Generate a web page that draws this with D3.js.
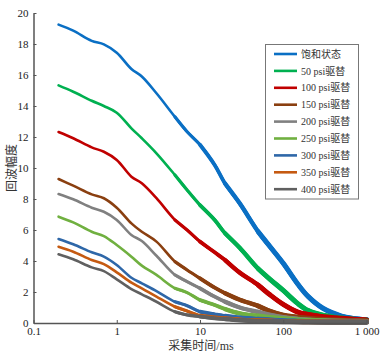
<!DOCTYPE html>
<html><head><meta charset="utf-8">
<script src="https://cdn.jsdelivr.net/npm/d3@7"></script>
<style>
body{margin:0;background:#fff;}
text{font-family:"Liberation Serif","Times New Roman","Noto Sans CJK SC",serif;}
</style></head>
<body><svg id="c" width="386" height="356"></svg>
<script>
const times = [0.2,0.3,0.5,0.7,1,1.5,2,3,5,7,10,15,20,30,50,70,100,150,200,300,500,700,1000];
const seriesNames = ["饱和状态","50 psi驱替","100 psi驱替","150 psi驱替","200 psi驱替","250 psi驱替","300 psi驱替","350 psi驱替","400 psi驱替"];
const colors = ["#0a6fc4","#00b050","#c00000","#8a3f10","#808080","#70b040","#2e67a8","#c55a11","#606060"];
const sat   = [19.25,18.86,18.2,17.98,17.44,16.39,15.9,14.82,13.3,12.34,11.5,10.2,9.0,7.72,5.89,4.9,3.85,2.5,1.7,0.95,0.45,0.3,0.22];
const p50   = [15.33,14.92,14.34,14.0,13.57,12.56,11.92,10.95,9.55,8.58,7.61,6.65,5.79,4.85,3.5,2.8,2.1,1.25,0.8,0.5,0.32,0.25,0.2];
const p100  = [12.32,11.92,11.33,11.05,10.52,9.44,9.01,8.05,6.65,6.0,5.25,4.56,4.06,3.25,2.45,1.8,1.2,0.7,0.55,0.4,0.3,0.25,0.2];
const p150  = [9.29,8.86,8.3,8.05,7.44,6.43,5.89,5.25,3.96,3.42,2.88,2.28,1.92,1.5,1.1,0.75,0.5,0.38,0.3,0.22,0.18,0.16,0.15];
const p200  = [8.32,7.98,7.44,7.18,6.65,5.68,5.29,4.34,3.1,2.67,2.24,1.7,1.37,1.0,0.7,0.5,0.35,0.25,0.2,0.15,0.12,0.11,0.1];
const p250  = [6.86,6.49,5.89,5.61,5.03,4.28,3.7,3.1,2.24,1.96,1.48,1.16,0.9,0.62,0.45,0.35,0.28,0.2,0.16,0.13,0.11,0.1,0.1];
const p300  = [5.42,5.08,4.56,4.28,3.74,2.92,2.56,2.06,1.37,1.12,0.73,0.56,0.45,0.34,0.25,0.2,0.15,0.12,0.1,0.09,0.08,0.08,0.08];
const p350  = [4.92,4.6,4.06,3.8,3.27,2.6,2.24,1.7,1.05,0.77,0.47,0.36,0.3,0.22,0.16,0.13,0.1,0.09,0.08,0.07,0.06,0.06,0.06];
const p400  = [4.43,4.11,3.59,3.35,2.82,2.19,1.85,1.37,0.73,0.52,0.41,0.3,0.25,0.18,0.12,0.1,0.08,0.07,0.06,0.05,0.05,0.05,0.05];
const allSeries = [sat,p50,p100,p150,p200,p250,p300,p350,p400];
const xTicks = [0.1,1,10,100,1000];
const xTickLabels = ["0.1","1","10","100","1 000"];
const yTicks = [0,2,4,6,8,10,12,14,16,18,20];
const xTitle = "采集时间/ms";
const yTitle = "回波幅度";

const svg = d3.select("#c");
const x = d3.scaleLog().domain([0.1,1000]).range([33.5,366.5]);
const y = d3.scaleLinear().domain([0,20]).range([323,13]);
const axisColor = "#555";

const line = d3.line().x(d=>x(d[0])).y(d=>y(d[1])).curve(d3.curveCatmullRom.alpha(0.5));
const g = svg.append("g");
const widths = [[0,2.6],[5,3.2],[10,3.8],[20,4.4],[50,5]];
allSeries.forEach((s,i)=>{
  const pts = times.map((t,j)=>[t,s[j]]);
  widths.forEach(([t0,w])=>{
    const seg = pts.filter(p=>p[0]>=t0);
    g.append("path").attr("d",line(seg)).attr("fill","none").attr("stroke",colors[i]).attr("stroke-width",w).attr("stroke-linejoin","round").attr("stroke-linecap","round");
  });
});

// axes
const xAxis = d3.axisBottom(x).tickValues(xTicks).tickFormat((d,i)=>xTickLabels[i]).tickSizeInner(-3).tickSizeOuter(0).tickPadding(4);
const xa = svg.append("g").attr("transform","translate(0,323)").call(xAxis);
xa.select(".domain").attr("stroke",axisColor).attr("stroke-width",1.5);
xa.selectAll(".tick line").attr("stroke",axisColor);
xa.selectAll("text").attr("font-size",11).attr("fill","#222");

const yAxis = d3.axisLeft(y).tickValues(yTicks).tickSizeInner(-3).tickSizeOuter(0).tickPadding(5);
const ya = svg.append("g").attr("transform","translate(33.5,0)").call(yAxis);
ya.select(".domain").attr("stroke",axisColor).attr("stroke-width",1.5);
ya.selectAll(".tick line").attr("stroke",axisColor);
ya.selectAll("text").attr("font-size",11).attr("fill","#222");

svg.append("text").attr("x",201).attr("y",350).attr("text-anchor","middle").attr("font-size",12).attr("fill","#333").text(xTitle);
svg.append("text").attr("transform","translate(16,168) rotate(-90)").attr("text-anchor","middle").attr("font-size",12).attr("fill","#333").text(yTitle);

// legend
const lg = svg.append("g");
lg.append("rect").attr("x",265.5).attr("y",44.5).attr("width",93).attr("height",154.5).attr("fill","#fff").attr("stroke","#777").attr("stroke-width",1);
seriesNames.forEach((n,i)=>{
  const yy = 54 + i*16.9;
  lg.append("line").attr("x1",274).attr("x2",297).attr("y1",yy).attr("y2",yy).attr("stroke",colors[i]).attr("stroke-width",2.6);
  lg.append("text").attr("x",301).attr("y",yy+3.6).attr("font-size",10).attr("fill","#333").text(n);
});
</script></body></html>
